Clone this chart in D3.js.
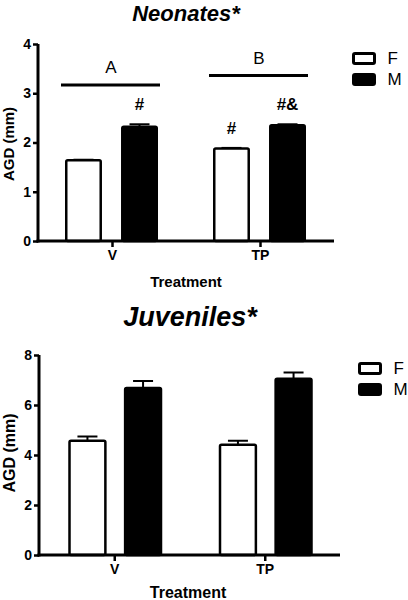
<!DOCTYPE html>
<html>
<head>
<meta charset="utf-8">
<script src="https://cdn.jsdelivr.net/npm/d3@7"></script>
<style>
  html, body { margin: 0; padding: 0; background: #fff; }
  svg { display: block; font-family: "Liberation Sans", Arial, sans-serif; }
</style>
</head>
<body>
<svg id="chart" width="408" height="600"></svg>
<script>
// ---------- data ----------
const treatments = ["V", "TP"];
const sexes = ["F", "M"];

const neonatesTitle = "Neonates*";
const neonatesF = [1.64, 1.88];
const neonatesM = [2.32, 2.35];
const neonatesFErr = [0.01, 0.01];
const neonatesMErr = [0.05, 0.02];
const neonatesTicks = [0, 1, 2, 3, 4];
const neonatesSigLetters = ["A", "B"];
const neonatesSigLevels = [3.17, 3.36];
const neonatesMarkF = ["", "#"];
const neonatesMarkM = ["#", "#&"];

const juvenilesTitle = "Juveniles*";
const juvenilesF = [4.57, 4.41];
const juvenilesM = [6.68, 7.05];
const juvenilesFErr = [0.17, 0.16];
const juvenilesMErr = [0.28, 0.25];
const juvenilesTicks = [0, 2, 4, 6, 8];

const yLabel = "AGD (mm)";
const xLabel = "Treatment";

// ---------- drawing ----------
const svg = d3.select("#chart");

function panel(cfg) {
  const g = svg.append("g");
  const x = d3.scalePoint().domain(treatments).range([cfg.x0, cfg.x1]).padding(0.5);
  const inner = d3.scaleBand().domain(sexes).range(cfg.inner).paddingInner(cfg.innerPad).paddingOuter(0);
  const y = d3.scaleLinear().domain([0, cfg.ymax]).range([cfg.yBottom, cfg.yTop]);
  const bw = inner.bandwidth();

  // title
  g.append("text")
    .attr("x", cfg.titleX).attr("y", cfg.titleY)
    .attr("text-anchor", "middle")
    .attr("font-size", cfg.titleSize).attr("font-weight", "bold").attr("font-style", "italic")
    .text(cfg.title);

  const rows = [];
  treatments.forEach((t, i) => {
    rows.push({ t, s: "F", v: cfg.F[i], e: cfg.FErr[i], mark: cfg.markF ? cfg.markF[i] : "" });
    rows.push({ t, s: "M", v: cfg.M[i], e: cfg.MErr[i], mark: cfg.markM ? cfg.markM[i] : "" });
  });

  // error bars (upper only)
  const eb = g.append("g");
  rows.forEach(r => {
    const cx = x(r.t) + inner(r.s) + bw / 2;
    eb.append("line").attr("x1", cx).attr("x2", cx)
      .attr("y1", y(r.v)).attr("y2", y(r.v + r.e))
      .attr("stroke", "#000").attr("stroke-width", 2);
    eb.append("line").attr("x1", cx - 10).attr("x2", cx + 10)
      .attr("y1", y(r.v + r.e)).attr("y2", y(r.v + r.e))
      .attr("stroke", "#000").attr("stroke-width", 2);
  });

  // bars
  g.append("g").selectAll("rect").data(rows).join("rect")
    .attr("x", d => x(d.t) + inner(d.s) + 1.25)
    .attr("width", bw - 2.5)
    .attr("y", d => y(d.v))
    .attr("height", d => y(0) - y(d.v))
    .attr("rx", 1.5)
    .attr("fill", d => d.s === "F" ? "#fff" : "#000")
    .attr("stroke", "#000").attr("stroke-width", 2.5);

  // markers
  rows.forEach(r => {
    if (!r.mark) return;
    const cx = x(r.t) + inner(r.s) + bw / 2;
    g.append("text").attr("x", cx).attr("y", y(r.v + r.e) - 14)
      .attr("text-anchor", "middle").attr("font-size", 17).attr("font-weight", "bold")
      .text(r.mark);
  });

  // significance lines
  if (cfg.sigLetters) {
    treatments.forEach((t, i) => {
      const xa = x(t) + inner("F") - 4;
      const xb = x(t) + inner("M") + bw + 2;
      const yy = y(cfg.sigLevels[i]);
      g.append("line").attr("x1", xa).attr("x2", xb).attr("y1", yy).attr("y2", yy)
        .attr("stroke", "#000").attr("stroke-width", 3);
      g.append("text").attr("x", x(t) - 1).attr("y", yy - 12)
        .attr("text-anchor", "middle").attr("font-size", 17)
        .text(cfg.sigLetters[i]);
    });
  }

  // y axis
  const ya = g.append("g").attr("transform", `translate(${cfg.x0},0)`)
    .call(d3.axisLeft(y).tickValues(cfg.ticks).tickFormat(d3.format("d")).tickSize(5).tickPadding(2));
  ya.select(".domain").attr("stroke-width", 3).attr("d", `M0,${cfg.yTop}V${cfg.yBottom + 1.5}`);
  ya.selectAll(".tick line").attr("stroke-width", 2.5);
  ya.selectAll(".tick text").attr("font-size", 14).attr("font-weight", "bold")
    .attr("font-family", "Liberation Sans, Arial, sans-serif").attr("fill", "#000");

  // x axis
  const xa = g.append("g").attr("transform", `translate(0,${cfg.yBottom})`)
    .call(d3.axisBottom(x).tickSize(6).tickPadding(3));
  xa.select(".domain").attr("stroke-width", 3).attr("d", `M${cfg.x0 - 1.5},0H${cfg.x1}`);
  xa.selectAll(".tick line").attr("stroke-width", 2.5);
  xa.selectAll(".tick text").attr("font-size", 14).attr("font-weight", "bold")
    .attr("font-family", "Liberation Sans, Arial, sans-serif").attr("fill", "#000");

  // axis labels
  g.append("text")
    .attr("transform", `translate(${cfg.yLabelX},${cfg.yLabelY}) rotate(-90)`)
    .attr("text-anchor", "middle").attr("font-size", cfg.labelSize).attr("font-weight", "bold")
    .text(yLabel);
  g.append("text").attr("x", cfg.xLabelX).attr("y", cfg.xLabelY)
    .attr("text-anchor", "middle").attr("font-size", cfg.labelSize).attr("font-weight", "bold")
    .text(xLabel);

  // legend
  sexes.forEach((s, i) => {
    const ly = cfg.legY + i * cfg.legStep;
    g.append("rect").attr("x", cfg.legX).attr("y", ly).attr("width", 21).attr("height", 10)
      .attr("rx", 1.5)
      .attr("fill", s === "F" ? "#fff" : "#000").attr("stroke", "#000").attr("stroke-width", 3);
    g.append("text").attr("x", cfg.legX + 34).attr("y", ly + 10)
      .attr("font-size", 17).text(s);
  });
}

panel({
  title: neonatesTitle, titleX: 186, titleY: 21, titleSize: 22,
  F: neonatesF, M: neonatesM, FErr: neonatesFErr, MErr: neonatesMErr,
  markF: neonatesMarkF, markM: neonatesMarkM,
  sigLetters: neonatesSigLetters, sigLevels: neonatesSigLevels,
  ticks: neonatesTicks, ymax: 4,
  x0: 38, x1: 334, inner: [-47, 46], innerPad: 0.34,
  yTop: 44, yBottom: 241,
  yLabelX: 14, yLabelY: 144, xLabelX: 186, xLabelY: 287, labelSize: 15,
  legX: 353.5, legY: 53.5, legStep: 21
});

panel({
  title: juvenilesTitle, titleX: 190, titleY: 326, titleSize: 27,
  F: juvenilesF, M: juvenilesM, FErr: juvenilesFErr, MErr: juvenilesMErr,
  ticks: juvenilesTicks, ymax: 8,
  x0: 39, x1: 340, inner: [-46, 48], innerPad: 0.31,
  yTop: 355, yBottom: 555,
  yLabelX: 15, yLabelY: 453, xLabelX: 188, xLabelY: 598, labelSize: 16,
  legX: 359.5, legY: 363.5, legStep: 21
});
</script>
</body>
</html>
